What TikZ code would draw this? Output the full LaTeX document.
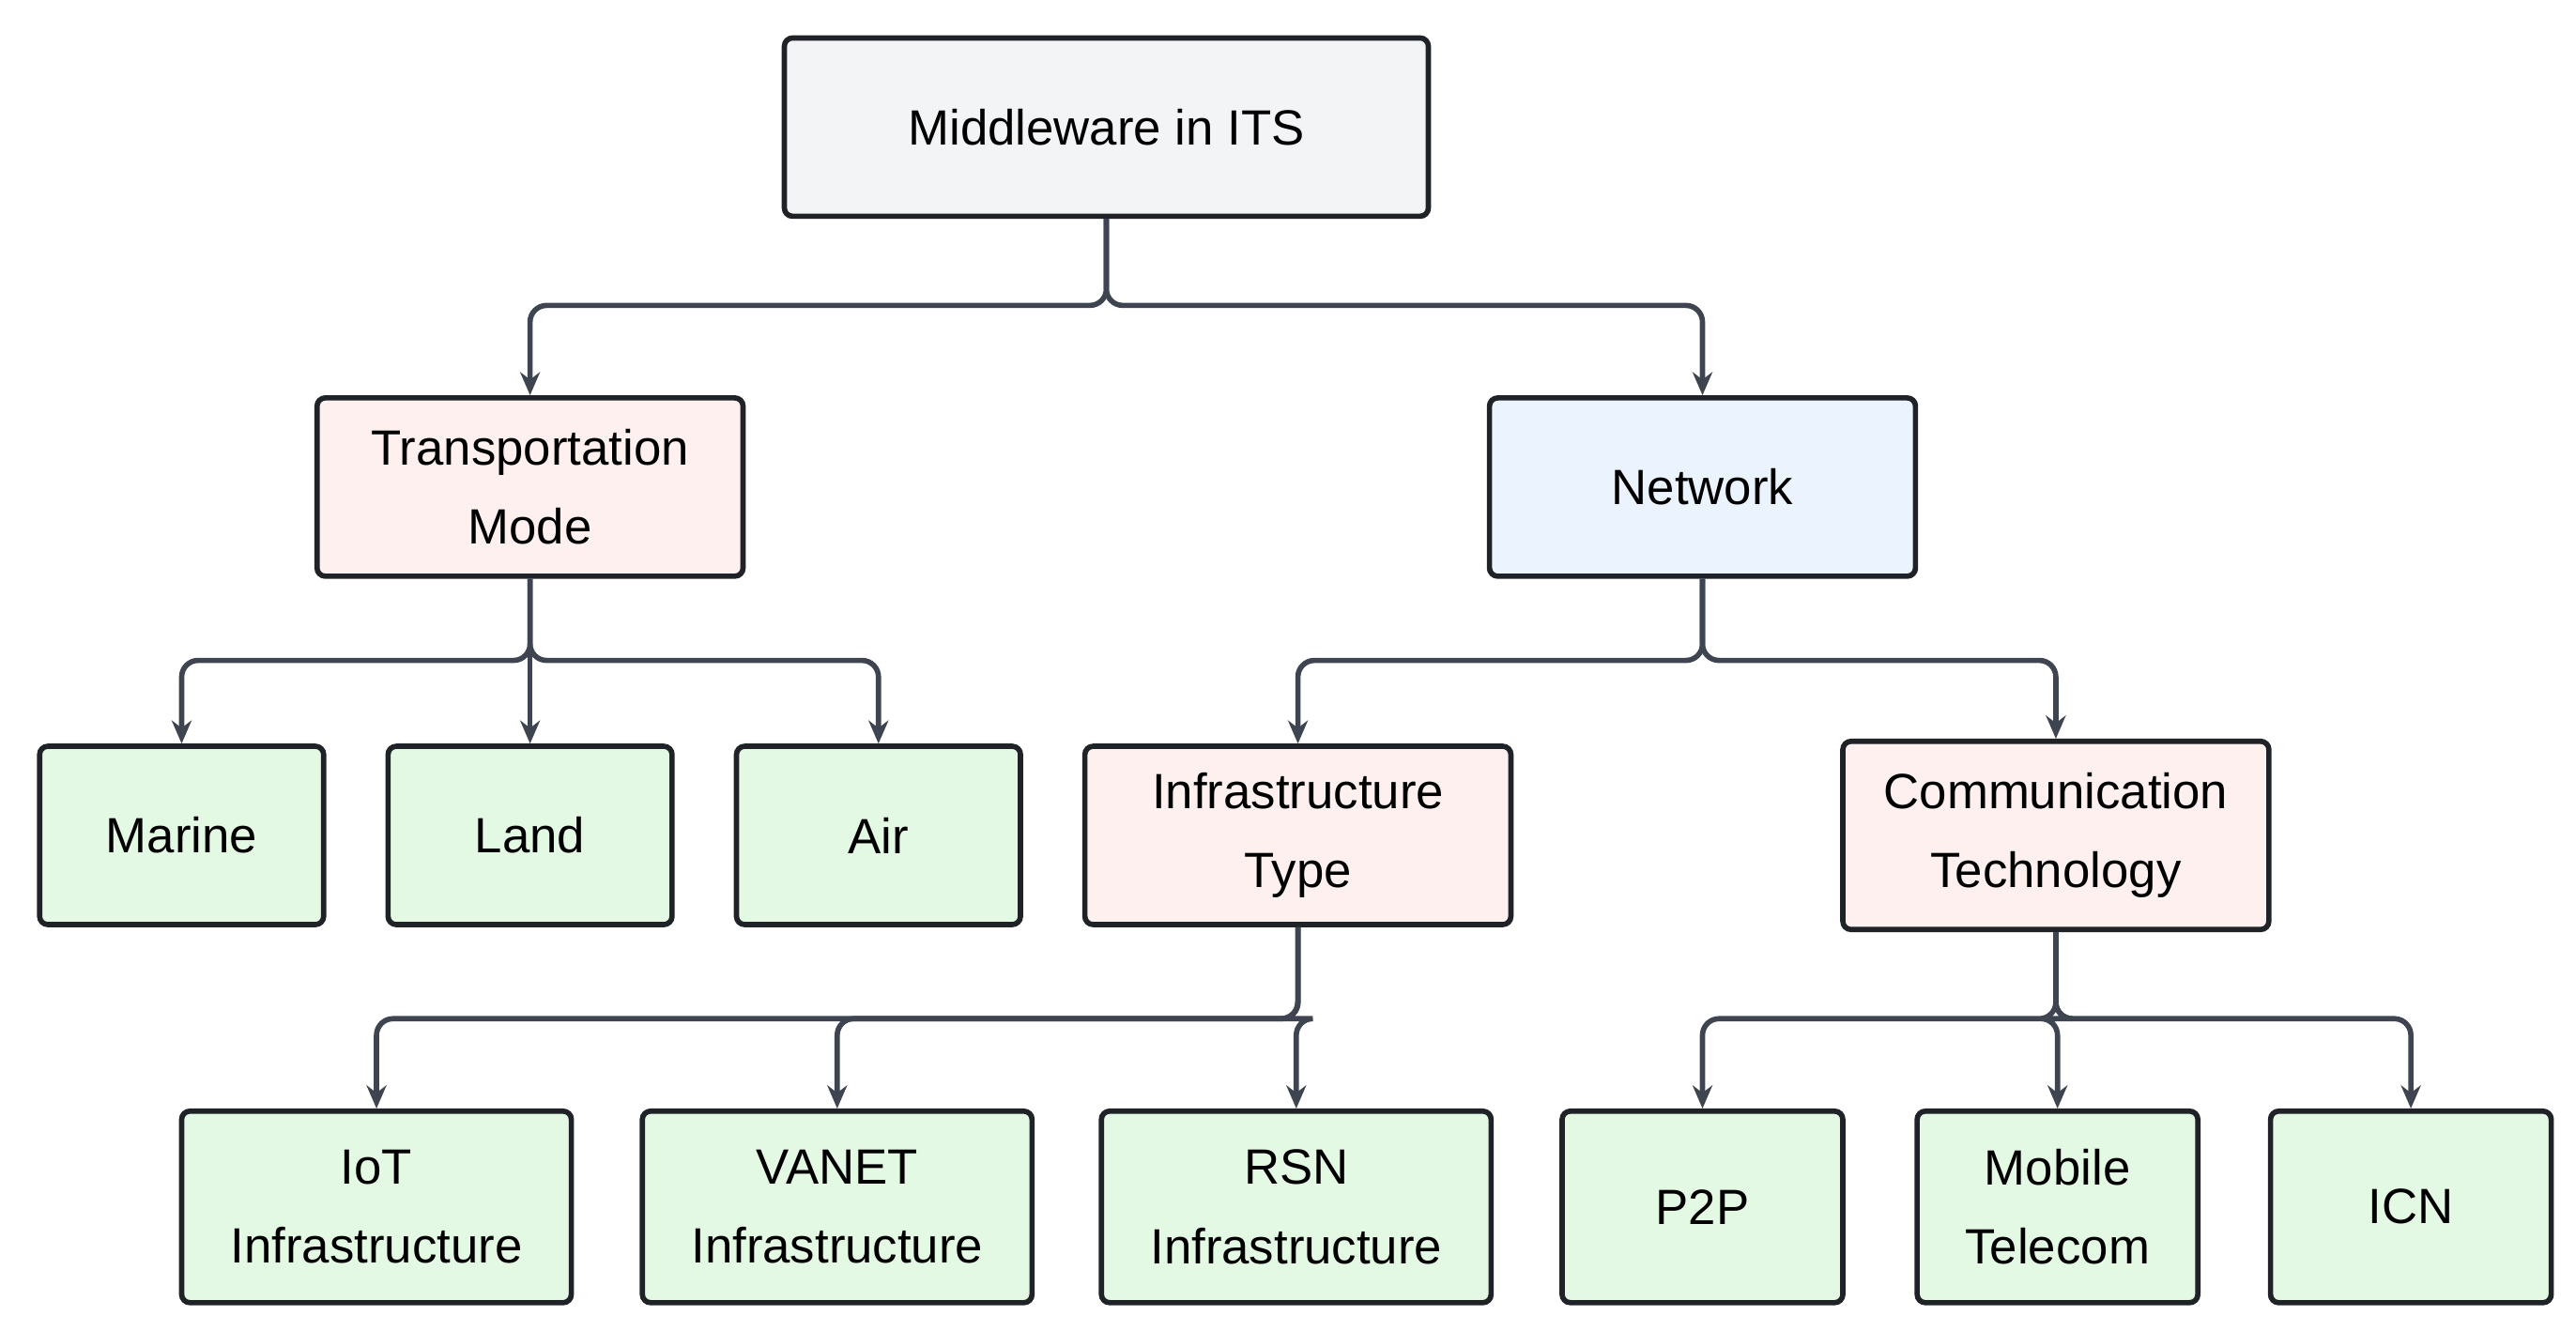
\documentclass[tikz,border=0pt]{standalone}
\usepackage{fontspec}
\setmainfont{Liberation Sans}
\usetikzlibrary{arrows.meta}
\definecolor{bd}{HTML}{1F2328}
\definecolor{ln}{HTML}{3F4550}
\definecolor{cg}{HTML}{F3F4F6}
\definecolor{cp}{HTML}{FDF0EE}
\definecolor{cb}{HTML}{EBF4FE}
\definecolor{cgr}{HTML}{E3F9E3}
\begin{document}
\begin{tikzpicture}[x=0.5pt,y=-0.5pt,
 box/.style={draw=bd,line width=1.6pt,rounded corners=2.5pt,align=center,font=\fontsize{15}{24}\selectfont,inner sep=0pt},
 con/.style={draw=ln,line width=1.6pt,rounded corners=5pt,-{Stealth[length=7pt,width=6pt]}}]
\useasboundingbox (0,0) rectangle (1560,806);
\node[box,fill=cg,minimum width=195pt,minimum height=54pt] (root) at (670,77) {Middleware in ITS};
\node[box,fill=cp,minimum width=129pt,minimum height=54pt] (tm) at (321,295) {Transportation\\Mode};
\node[box,fill=cb,minimum width=129pt,minimum height=54pt] (net) at (1031,295) {Network};
\node[box,fill=cgr,minimum width=86pt,minimum height=54pt] (mar) at (110,506) {Marine};
\node[box,fill=cgr,minimum width=86pt,minimum height=54pt] (land) at (321,506) {Land};
\node[box,fill=cgr,minimum width=86pt,minimum height=54pt] (air) at (532,506) {Air};
\node[box,fill=cp,minimum width=129pt,minimum height=54pt] (inf) at (786,506) {Infrastructure\\Type};
\node[box,fill=cp,minimum width=129pt,minimum height=57pt] (com) at (1245,506) {Communication\\Technology};
\node[box,fill=cgr,minimum width=118pt,minimum height=58pt] (iot) at (228,731) {IoT\\Infrastructure};
\node[box,fill=cgr,minimum width=118pt,minimum height=58pt] (van) at (507,731) {VANET\\Infrastructure};
\node[box,fill=cgr,minimum width=118pt,minimum height=58pt] (rsn) at (785,731) {RSN\\Infrastructure};
\node[box,fill=cgr,minimum width=85pt,minimum height=58pt] (p2p) at (1031,731) {P2P};
\node[box,fill=cgr,minimum width=85pt,minimum height=58pt] (mob) at (1246,731) {Mobile\\Telecom};
\node[box,fill=cgr,minimum width=85pt,minimum height=58pt] (icn) at (1460,731) {ICN};
\coordinate (j1) at (670,185);
\coordinate (j2) at (321,400);
\coordinate (j3) at (1031,400);
\coordinate (j4) at (786,617);
\coordinate (j5) at (1245,617);
\draw[con] (root.south) -- (j1) -| (tm.north);
\draw[con] (root.south) -- (j1) -| (net.north);
\foreach \n in {mar,land,air}{\draw[con] (tm.south) -- (j2) -| (\n.north);}
\foreach \n in {inf,com}{\draw[con] (net.south) -- (j3) -| (\n.north);}
\foreach \n in {iot,van,rsn}{\draw[con] (inf.south) -- (j4) -| (\n.north);}
\foreach \n in {p2p,mob,icn}{\draw[con] (com.south) -- (j5) -| (\n.north);}
\end{tikzpicture}
\end{document}
